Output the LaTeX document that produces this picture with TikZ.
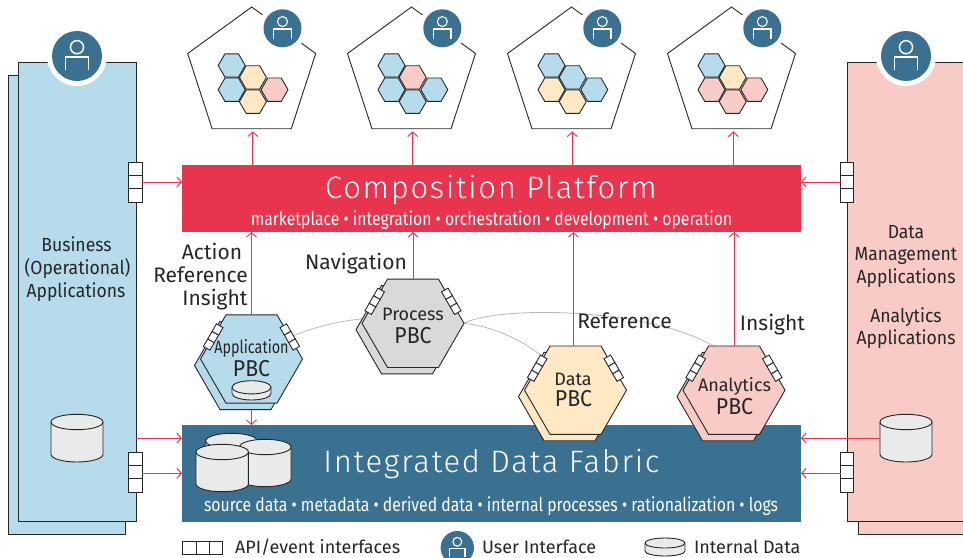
\documentclass[tikz,border=0pt]{standalone}
\usepackage{fontspec}
\usetikzlibrary{arrows.meta,shapes.geometric}
\setmainfont{Fira Sans}
\newfontfamily\cond[FakeStretch=0.83]{Fira Sans}
\newfontfamily\cnd[FakeStretch=0.8]{Fira Sans}
\newfontfamily\cnb[FakeStretch=0.925]{Fira Sans}
\newfontfamily\ttlfont[LetterSpace=5.5]{Fira Sans Light}
\definecolor{cblue}{HTML}{B6DCEC}
\definecolor{cpink}{HTML}{F9CBC6}
\definecolor{cyell}{HTML}{FEE9C4}
\definecolor{cgray}{HTML}{D9D9D9}
\definecolor{cteal}{HTML}{3A7191}
\definecolor{cred}{HTML}{E9344E}
\definecolor{ccyl}{HTML}{E9EBEA}
\definecolor{cink}{HTML}{262626}
\pgfdeclarelayer{bg}
\pgfsetlayers{bg,main}
\tikzset{
  x=1pt,y=-1pt,
  outl/.style={draw=cink,line width=0.9pt},
  redarrow/.style={draw=cred,line width=1pt,-{Straight Barb[length=4.5pt,width=10pt,line width=1pt]}},
  softline/.style={draw=black!28,line width=0.8pt},
  band/.style={rectangle,inner sep=0pt,outer sep=0pt},
  hexbig/.style={regular polygon,regular polygon sides=6,minimum size=102pt,inner sep=0pt,outer sep=0pt,outl,fill=#1},
  hexsmall/.style={regular polygon,regular polygon sides=6,minimum size=27pt,inner sep=0pt,outer sep=0pt,outl,fill=#1},
  penta/.style={regular polygon,regular polygon sides=5,minimum size=134.6pt,inner sep=0pt,outer sep=0pt,outl},
  apibox/.style={rectangle,outl,fill=white,inner sep=0pt,outer sep=0pt},
  lbl/.style={inner sep=0pt,outer sep=0pt,anchor=base,text=black!85},
  lblw/.style={inner sep=0pt,outer sep=0pt,anchor=base,text=white},
  ghost/.style={rectangle,inner sep=0pt,outer sep=0pt},
  sheet/.style={outl},
}
% name, x, y, radius, halo radius, line width
\newcommand{\useravatar}[6]{%
  \fill[white] (#2,#3) circle[radius=#5];
  \node[circle,fill=cteal,inner sep=0pt,outer sep=0pt,minimum size=2*#4 pt] (#1) at (#2,#3) {};
  \begin{scope}[shift={(#2,#3)},scale=#4/19]
    \draw[white,line width=#6pt] (0,-6.7) circle[radius=5];
    \draw[white,line width=#6pt] (-8.7,11) -- (-8.7,0.7) -- (8.7,0.7) -- (8.7,11);
  \end{scope}}
% name, cx, top, rx, ry, bottom
\newcommand{\drum}[6]{%
  \pgfmathsetmacro{\mx}{#2}\pgfmathsetmacro{\my}{(#3+#6)/2}
  \pgfmathsetmacro{\rimy}{#3+#5}\pgfmathsetmacro{\boty}{#6-#5}
  \node[ghost,minimum width=2*#4 pt,minimum height={(#6-#3)*1pt}] (#1) at (\mx,\my) {};
  \path[outl,fill=ccyl] (#2-#4,\rimy) arc[start angle=180,end angle=360,x radius=#4,y radius=#5]
     -- (#2+#4,\boty) arc[start angle=0,end angle=180,x radius=#4,y radius=#5] -- cycle;
  \draw[outl] (#2-#4,\rimy) arc[start angle=180,end angle=0,x radius=#4,y radius=#5];}
% name, cx, cy, angle, length, width
\newcommand{\apistack}[6]{%
  \begin{scope}[shift={(#2,#3)},rotate=#4]
    \node[apibox,rotate=#4,minimum width=#5 pt,minimum height=#6 pt] (#1a) at (-#5,0) {};
    \node[apibox,rotate=#4,minimum width=#5 pt,minimum height=#6 pt] (#1) at (0,0) {};
    \node[apibox,rotate=#4,minimum width=#5 pt,minimum height=#6 pt] (#1b) at (#5,0) {};
  \end{scope}}
% suffix, cx, colours 1..5
\newcommand{\tile}[7]{%
  \node[penta] (pent#1) at (#2,74.3) {};
  \node[hexsmall=#3] (h#1a) at (#2-20,65.5) {};
  \node[hexsmall=#5] (h#1c) at (#2+22.8,89.7) {};
  \node[hexsmall=#6] (h#1d) at (#2-20,89.7) {};
  \node[hexsmall=#7] (h#1e) at (#2+1.2,101.7) {};
  \node[hexsmall=#4] (h#1b) at (#2+1.2,77.4) {};
  \useravatar{user#1}{#2+30.8}{28.3}{19}{24}{1.1}}
% name, cx, cy, fill
\newcommand{\bighex}[4]{%
  \node[hexbig=#4] (#1back) at (#2-6,#3+6.4) {};
  \node[hexbig=#4] (#1) at (#2,#3) {};
  \apistack{#1L}{#2-38.3}{#3-22}{60}{8.7}{7.5}
  \apistack{#1R}{#2+38.3}{#3-22}{-60}{8.7}{7.5}}
\begin{document}
\begin{tikzpicture}
\clip (0,0) rectangle (963,557);
\coordinate (yb) at (0,473.3);
% side applications
\path[sheet,fill=cblue] (8,75) rectangle (125.5,534);
\node[band,outl,fill=cblue,minimum width=118pt,minimum height=458.5pt] (appL) at (77,291.75) {};
\path[sheet,fill=cpink] (858,75) rectangle (990,534);
\node[band,outl,fill=cpink,minimum width=140pt,minimum height=458.5pt] (appD) at (917,291.75) {};
\useravatar{userL}{77}{56}{25}{30}{1.5}
\useravatar{userR}{906}{56}{25}{30}{1.5}
% bands
\node[band,fill=cred,minimum width=619pt,minimum height=67pt] (comp) at (491.5,198.5) {};
\node[band,fill=cteal,minimum width=619pt,minimum height=97pt] (fabric) at (491.5,473.5) {};
% front-ends
\tile{A}{251.7}{cblue}{cyell}{cpink}{cblue}{cyell}
\tile{B}{411.5}{cblue}{cpink}{cblue}{cblue}{cblue}
\tile{C}{571.5}{cblue}{cblue}{cblue}{cyell}{cyell}
\tile{D}{731.5}{cblue}{cyell}{cpink}{cpink}{cpink}
% PBCs
\coordinate (dataEnd) at (543,357);
\coordinate (anaEnd) at (713,346);
\coordinate (proIn) at (361,319);
\bighex{hexApp}{251.5}{359}{cblue}
\bighex{hexPro}{413}{323.3}{cgray}
\bighex{hexDat}{575.5}{390.2}{cyell}
\bighex{hexAna}{734}{390.2}{cpink}
\drum{dbApp}{251.5}{380.7}{19.5}{6.6}{400}
% gray relations
\begin{pgfonlayer}{bg}
\draw[softline] (hexAppR) .. controls (318,326) and (340,321) .. (proIn);
\draw[softline] (hexPro.east) .. controls (500,305) and (650,308) .. (anaEnd);
\draw[softline] (hexPro.east) .. controls (490,326) and (520,338) .. (dataEnd);
\end{pgfonlayer}
% data stores
\drum{dbL}{77}{414.3}{26}{7.7}{462}
\drum{dbR}{906}{414.3}{26}{7.7}{462}
\drum{dbF1}{231.5}{433.3}{25.8}{7.7}{470}
\drum{dbF2}{265.2}{439.3}{25.8}{7.7}{486.7}
\drum{dbF3}{222.2}{444.3}{26.2}{7.7}{491.7}
% API stacks on the applications
\apistack{apiLt}{135.5}{182}{90}{13.3}{13.3}
\apistack{apiLb}{135.5}{472}{90}{13.3}{13.3}
\apistack{apiRt}{847}{182}{90}{13.3}{13.3}
\apistack{apiRb}{847}{472}{90}{13.3}{13.3}
% red connectors
\draw[redarrow] (comp.north -| hAb.center) ++(0,0) -- ++(0,-33.6);
\draw[redarrow] (comp.north -| pentB.south) ++(1.2,0) -- ++(0,-33.6);
\draw[redarrow] (comp.north -| pentC.south) ++(0.8,0) -- ++(0,-33.6);
\draw[redarrow] (comp.north -| pentD.south) ++(1.8,0) -- ++(0,-33.6);
\draw[redarrow] (apiLt.center) ++(6.5,0) -- (comp.west |- apiLt.center);
\draw[redarrow] (apiRt.center) ++(-6.5,0) -- (comp.east |- apiRt.center);
\draw[redarrow] (hexApp.north) -- (hexApp.north |- comp.south);
\draw[redarrow] (hexPro.north) -- (hexPro.north |- comp.south);
\draw[redarrow] (hexDat.north) ++(-2,0) -- ++(0,-114);
\draw[redarrow] (hexAna.north) -- (hexAna.north |- comp.south);
\draw[redarrow] (hexAppback.south) ++(6,0) -- ++(0,15.5);
\draw[redarrow] (appL.east |- dbL.center) -- (fabric.west |- dbL.center);
\draw[redarrow] (apiLb.center) ++(6.5,1.3) -- (fabric.west |- yb);
\draw[redarrow] (dbR.west) -- (fabric.east |- dbR.west);
\draw[redarrow] (apiRb.center) ++(-6.5,1.3) -- (fabric.east |- yb);
% band texts
\node[lblw] (tComp) at (491,198) {\fontsize{31}{34}\selectfont\ttlfont Composition Platform};
\node[lblw] (sComp) at (491.5,225) {\fontsize{19}{22}\selectfont\cond marketplace • integration • orchestration • development • operation};
\node[lblw] (tFab) at (491.5,472.7) {\fontsize{31}{34}\selectfont\ttlfont Integrated Data Fabric};
\node[lblw] (sFab) at (491,511.7) {\fontsize{19}{22}\selectfont\cond source data • metadata • derived data • internal processes • rationalization • logs};
% side texts
\node[lbl] (t1) at (76.5,251) {\fontsize{19}{20}\selectfont\cnb Business};
\node[lbl] (t2) at (77.5,274) {\fontsize{19}{20}\selectfont\cnb (Operational)};
\node[lbl] (t3) at (76,297) {\fontsize{19}{20}\selectfont\cnb Applications};
\node[lbl] (t4) at (906,238) {\fontsize{19}{20}\selectfont\cnb Data};
\node[lbl] (t5) at (906,260.5) {\fontsize{19}{20}\selectfont\cnb Management};
\node[lbl] (t6) at (906,283) {\fontsize{19}{20}\selectfont\cnb Applications};
\node[lbl] (t7) at (906,322) {\fontsize{19}{20}\selectfont\cnb Analytics};
\node[lbl] (t8) at (906,344) {\fontsize{19}{20}\selectfont\cnb Applications};
% flow labels
\node[lbl] (f1) at (212,259) {\fontsize{21}{24}\selectfont Action};
\node[lbl] (f2) at (200.5,282) {\fontsize{21}{24}\selectfont Reference};
\node[lbl] (f3) at (215,305.7) {\fontsize{21}{24}\selectfont Insight};
\node[lbl] (f4) at (356,269) {\fontsize{21}{24}\selectfont Navigation};
\node[lbl] (f5) at (624.5,328.3) {\fontsize{21}{24}\selectfont Reference};
\node[lbl] (f6) at (772.5,330.7) {\fontsize{21}{24}\selectfont Insight};
% PBC labels
\node[lbl] (p1) at (251.5,353.3) {\fontsize{18}{20}\selectfont\cnd Application};
\node[lbl] (p2) at (251.5,376.7) {\fontsize{23}{26}\selectfont\cnb PBC};
\node[lbl] (p3) at (413,320) {\fontsize{18}{20}\selectfont Process};
\node[lbl] (p4) at (413,343.3) {\fontsize{23}{26}\selectfont\cnb PBC};
\node[lbl] (p5) at (573,385) {\fontsize{18}{20}\selectfont Data};
\node[lbl] (p6) at (573.5,406.7) {\fontsize{23}{26}\selectfont\cnb PBC};
\node[lbl] (p7) at (734.5,391.7) {\fontsize{18}{20}\selectfont Analytics};
\node[lbl] (p8) at (734.5,414) {\fontsize{23}{26}\selectfont\cnb PBC};
% legend
\apistack{legApi}{202.7}{547.7}{0}{13.3}{13.3}
\node[lbl,anchor=base west] (lg1) at (235,553.3) {\fontsize{18}{20}\selectfont API/event interfaces};
\useravatar{legUser}{457.3}{547.7}{16.7}{16.7}{1.1}
\node[lbl,anchor=base west] (lg2) at (482,553.3) {\fontsize{18}{20}\selectfont User Interface};
\drum{legDb}{665}{538}{20}{5}{556}
\node[lbl,anchor=base west] (lg3) at (694,553.3) {\fontsize{18}{20}\selectfont Internal Data};
\end{tikzpicture}
\end{document}
